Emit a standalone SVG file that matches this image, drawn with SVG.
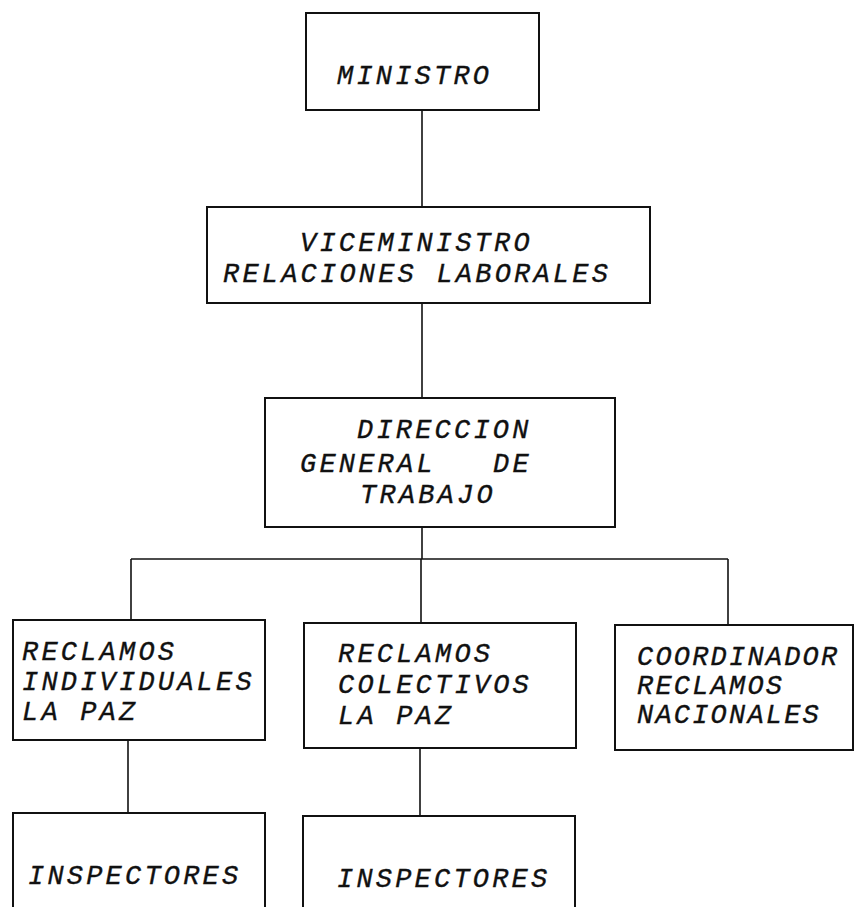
<svg xmlns="http://www.w3.org/2000/svg" width="855" height="907" viewBox="0 0 855 907">
<style>
.box{fill:#fff;stroke:#111;stroke-width:2}
.ln{fill:none;stroke:#111;stroke-width:1.6}
text{font-family:"Liberation Mono","Courier New",monospace;font-style:italic;font-size:27px;letter-spacing:3.2px;fill:#111;stroke:#111;stroke-width:0.35}
#coordinador text{letter-spacing:2.2px}
</style>
<rect width="855" height="907" fill="#fff"/>
<g id="connectors">
<line class="ln" x1="422" y1="110" x2="422" y2="207"/>
<line class="ln" x1="422" y1="303" x2="422" y2="398"/>
<line class="ln" x1="422" y1="527" x2="422" y2="559"/>
<line class="ln" x1="131" y1="559" x2="728" y2="559"/>
<line class="ln" x1="131" y1="559" x2="131" y2="620"/>
<line class="ln" x1="421" y1="559" x2="421" y2="623"/>
<line class="ln" x1="728" y1="559" x2="728" y2="625"/>
<line class="ln" x1="128" y1="740" x2="128" y2="813"/>
<line class="ln" x1="420" y1="748" x2="420" y2="816"/>
</g>
<g id="ministro">
<rect class="box" x="306" y="13" width="233" height="97"/>
<text x="337" y="84">MINISTRO</text>
</g>
<g id="viceministro">
<rect class="box" x="207" y="207" width="443" height="96"/>
<text x="300" y="251">VICEMINISTRO</text>
<text x="223" y="282">RELACIONES LABORALES</text>
</g>
<g id="direccion">
<rect class="box" x="265" y="398" width="350" height="129"/>
<text x="357" y="438">DIRECCION</text>
<text x="300" y="472">GENERAL</text>
<text x="493" y="472">DE</text>
<text x="360" y="503">TRABAJO</text>
</g>
<g id="individuales">
<rect class="box" x="13" y="620" width="252" height="120"/>
<text x="22" y="660">RECLAMOS</text>
<text x="22" y="690">INDIVIDUALES</text>
<text x="22" y="720">LA PAZ</text>
</g>
<g id="colectivos">
<rect class="box" x="304" y="623" width="272" height="125"/>
<text x="338" y="662">RECLAMOS</text>
<text x="338" y="693">COLECTIVOS</text>
<text x="338" y="724">LA PAZ</text>
</g>
<g id="coordinador">
<rect class="box" x="615" y="625" width="238" height="125"/>
<text x="637" y="665">COORDINADOR</text>
<text x="637" y="694">RECLAMOS</text>
<text x="637" y="723">NACIONALES</text>
</g>
<g id="inspectores1">
<rect class="box" x="13" y="813" width="252" height="110"/>
<text x="28" y="884">INSPECTORES</text>
</g>
<g id="inspectores2">
<rect class="box" x="303" y="816" width="272" height="110"/>
<text x="337" y="887">INSPECTORES</text>
</g>
</svg>
